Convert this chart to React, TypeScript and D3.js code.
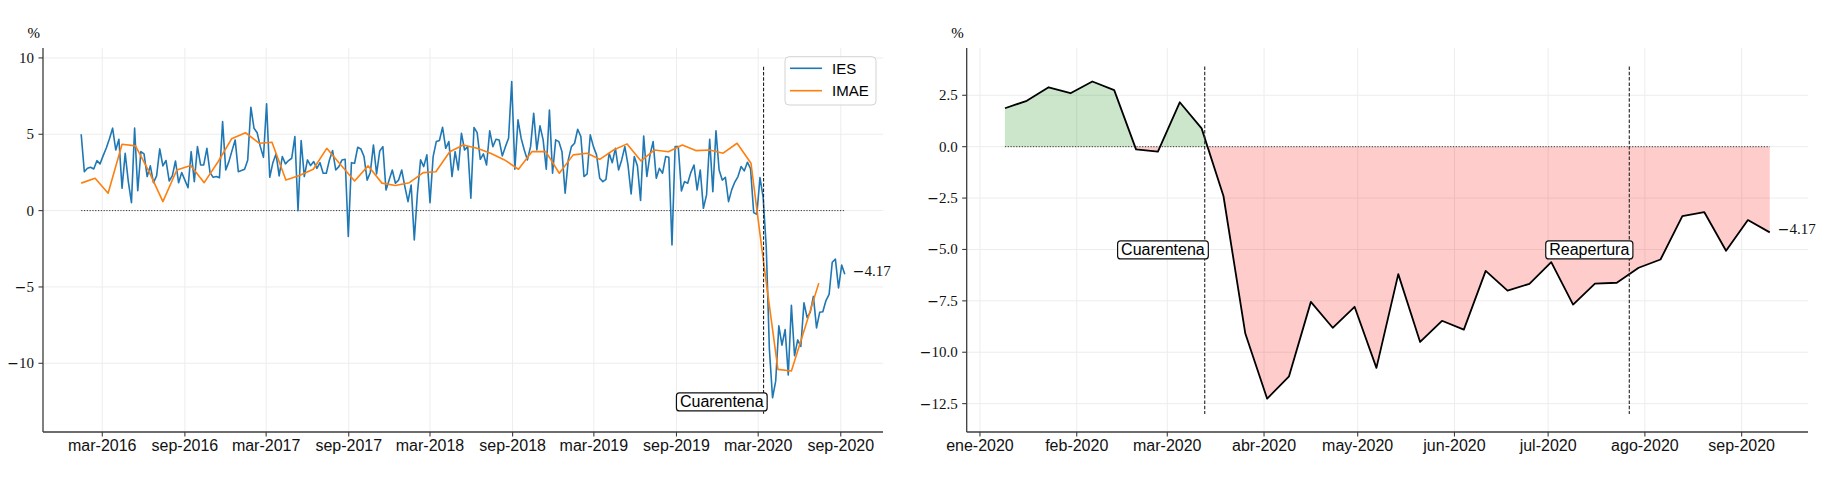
import * as d3 from "d3";
import { useRef, useLayoutEffect, useState } from "react";

// IES: weekly (Thursdays) from 2016-01-14
const iesStart = "2016-01-14";
const iesValues = [
  5.0, 2.55, 2.77, 2.84, 2.73, 3.27, 3.06, 3.6, 4.1, 4.7,
  5.4, 3.97, 4.67, 1.46, 3.75, 1.9, 0.52, 5.4, 1.31, 3.86,
  3.71, 2.23, 2.93, 1.83, 2.27, 4.04, 2.93, 3.28, 1.94, 2.27,
  3.25, 1.83, 2.49, 2.0, 1.5, 3.86, 1.9, 4.19, 2.99, 2.99,
  4.08, 2.49, 2.18, 2.23, 2.16, 5.83, 2.66, 3.21, 3.93, 4.63,
  2.55, 2.62, 2.71, 3.32, 6.77, 5.39, 5.1, 4.19, 3.49, 6.99,
  2.18, 3.14, 3.71, 2.27, 3.54, 3.06, 3.28, 3.43, 4.85, 0.0,
  4.59, 2.23, 3.32, 2.95, 3.21, 2.77, 3.14, 2.45, 2.45, 3.32,
  3.93, 2.66, 2.88, 3.32, 3.36, -1.7, 3.14, 3.1, 4.15, 4.04,
  3.54, 2.0, 2.5, 4.3, 2.4, 3.9, 4.19, 1.35, 2.0, 2.66,
  1.79, 2.0, 2.66, 1.57, 0.59, 1.68, -1.92, 1.14, 3.32, 2.88,
  3.65, 0.52, 3.54, 4.52, 4.59, 5.46, 4.08, 4.52, 2.23, 3.86,
  2.66, 5.07, 3.97, 4.19, 0.81, 5.44, 5.11, 3.36, 3.71, 2.99,
  5.22, 4.19, 4.67, 4.63, 3.58, 4.19, 4.74, 8.45, 2.71, 5.94,
  4.74, 3.97, 3.32, 4.19, 6.38, 3.97, 5.55, 4.63, 2.71, 6.59,
  2.45, 4.63, 4.52, 3.86, 1.14, 3.32, 4.19, 4.41, 5.33, 4.85,
  2.23, 2.4, 4.96, 4.19, 3.65, 2.12, 1.9, 2.05, 3.76, 3.14,
  4.08, 2.66, 3.32, 4.19, 2.99, 1.09, 3.54, 2.93, 0.66, 4.89,
  2.23, 3.65, 4.52, 2.12, 2.77, 2.45, 3.54, 3.49, -2.25, 4.19,
  4.19, 1.29, 1.9, 1.79, 2.49, 2.99, 1.35, 2.66, 0.15, 1.03,
  4.67, 1.24, 5.22, 2.66, 2.0, 2.18, 0.59, 1.36,
  // 2020-01-09 onwards
  1.87, 2.23, 2.89, 2.6, 3.17, 2.75, -0.13, -0.24, 2.16, 0.89,
  -2.4, -9.09, -12.26, -11.17, -7.55, -8.81, -7.79, -10.76, -6.2, -9.5,
  -8.47, -8.9, -6.04, -7.0, -6.67, -5.62, -7.68, -6.66, -6.62, -5.89,
  -5.49, -3.38, -3.18, -5.06, -3.57, -4.17,
];

// IMAE: monthly from 2016-01
const imaeValues = [
  1.8, 2.12, 1.14, 4.35, 4.24, 2.5, 0.59, 2.66, 2.95, 1.83, 3.2, 4.7,
  5.1, 4.41, 4.48, 2.0, 2.3, 2.71, 4.08, 3.0, 1.94, 2.93, 1.8, 1.65,
  1.83, 2.49, 2.55, 3.86, 4.3, 4.08, 3.76, 3.32, 2.71, 3.86, 3.86, 2.45,
  3.65, 3.76, 3.36, 3.97, 4.37, 3.25, 3.97, 3.86, 4.3, 3.93, 3.97, 3.76,
  4.41, 3.1, -3.6, -10.4, -10.5, -7.6, -4.75,
];

const zoomStart = "2020-01-09";
const quarantineDate = "2020-03-13";
const reopeningDate = "2020-07-27";

const leftTickDates = [
  "2016-03-01", "2016-09-01", "2017-03-01", "2017-09-01", "2018-03-01",
  "2018-09-01", "2019-03-01", "2019-09-01", "2020-03-01", "2020-09-01",
];
const leftTickLabels = [
  "mar-2016", "sep-2016", "mar-2017", "sep-2017", "mar-2018",
  "sep-2018", "mar-2019", "sep-2019", "mar-2020", "sep-2020",
];
const leftYTicks = [-10, -5, 0, 5, 10];

const rightTickDates = [
  "2020-01-01", "2020-02-01", "2020-03-01", "2020-04-01", "2020-05-01",
  "2020-06-01", "2020-07-01", "2020-08-01", "2020-09-01",
];
const rightTickLabels = [
  "ene-2020", "feb-2020", "mar-2020", "abr-2020", "may-2020",
  "jun-2020", "jul-2020", "ago-2020", "sep-2020",
];
const rightYTicks = [-12.5, -10, -7.5, -5, -2.5, 0, 2.5];

const parse = (s: string) => {
  const [y, m, d] = s.split("-").map(Number);
  return new Date(y, m - 1, d);
};
const addDays = (d: Date, n: number) => new Date(d.getFullYear(), d.getMonth(), d.getDate() + n);

const iesDates = iesValues.map((_, i) => addDays(parse(iesStart), 7 * i));
const imaeDates = imaeValues.map((_, i) => new Date(2016, i, 14));
const ies = iesValues.map((v, i) => ({ date: iesDates[i], value: v }));
const imae = imaeValues.map((v, i) => ({ date: imaeDates[i], value: v }));
const zoomStartIdx = iesDates.findIndex((d) => +d === +parse(zoomStart));
const zoomed = ies.slice(zoomStartIdx);

const W = 1824;
const H = 480;
const top = 48;
const bottom = 432;
const BLUE = "#1f77b4";
const ORANGE = "#ff7f0e";
const SPINE = "#3c3c3c";
const GRID = "#ededed";
const SANS = "'Liberation Sans', Arial, sans-serif";
const SERIF = "'Liberation Serif', 'DejaVu Serif', serif";

function padded(dates: Date[]): [Date, Date] {
  const t0 = +dates[0];
  const t1 = +dates[dates.length - 1];
  const p = (t1 - t0) * 0.05;
  return [new Date(t0 - p), new Date(t1 + p)];
}

// math-style number: long minus sign like the LaTeX one
function MathNum({ v, digits }: { v: number; digits?: number }) {
  const s = digits === undefined ? Math.abs(v).toString() : Math.abs(v).toFixed(digits);
  return (
    <>
      {v < 0 && (
        <tspan fontFamily="'DejaVu Serif', serif" fontSize={14}>
          {"\u2212"}
        </tspan>
      )}
      {s}
    </>
  );
}

function BoxLabel({ x, y, text }: { x: number; y: number; text: string }) {
  const ref = useRef<SVGTextElement>(null);
  const [bb, setBb] = useState<DOMRect | null>(null);
  useLayoutEffect(() => {
    if (ref.current) setBb(ref.current.getBBox());
  }, [x, y, text]);
  return (
    <g>
      {bb && (
        <rect
          x={bb.x - 3.5}
          y={bb.y}
          width={bb.width + 7}
          height={bb.height + 1}
          rx={3}
          fill="white"
          stroke="#111"
          strokeWidth={1.2}
        />
      )}
      <text
        ref={ref}
        x={x}
        y={y}
        textAnchor="end"
        dominantBaseline="central"
        fontFamily={SANS}
        fontSize={16}
        fill="#000"
      >
        {text}
      </text>
    </g>
  );
}

function Grid({
  x,
  y,
  xTicks,
  yTicks,
}: {
  x: d3.ScaleTime<number, number>;
  y: d3.ScaleLinear<number, number>;
  xTicks: Date[];
  yTicks: number[];
}) {
  const [x0, x1] = x.range();
  return (
    <g>
      {xTicks.map((d, i) => (
        <line key={"gx" + i} x1={x(d)} x2={x(d)} y1={top} y2={bottom} stroke={GRID} strokeWidth={1} />
      ))}
      {yTicks.map((v, i) => (
        <line key={"gy" + i} x1={x0} x2={x1} y1={y(v)} y2={y(v)} stroke={GRID} strokeWidth={1} />
      ))}
      <text x={x0 - 3} y={38} textAnchor="end" fontFamily={SERIF} fontSize={15}>
        %
      </text>
    </g>
  );
}

function Spines({
  x,
  y,
  xTicks,
  xLabels,
  yTicks,
  yDigits,
}: {
  x: d3.ScaleTime<number, number>;
  y: d3.ScaleLinear<number, number>;
  xTicks: Date[];
  xLabels: string[];
  yTicks: number[];
  yDigits?: number;
}) {
  const [x0, x1] = x.range();
  return (
    <g>
      <line x1={x0} x2={x0} y1={top} y2={bottom} stroke={SPINE} strokeWidth={1.3} />
      <line x1={x0} x2={x1} y1={bottom} y2={bottom} stroke={SPINE} strokeWidth={1.3} />
      {xTicks.map((d, i) => (
        <g key={"tx" + i}>
          <line x1={x(d)} x2={x(d)} y1={bottom} y2={bottom + 4.5} stroke={SPINE} strokeWidth={1.1} />
          <text x={x(d)} y={451} textAnchor="middle" fontFamily={SANS} fontSize={16} fill="#111">
            {xLabels[i]}
          </text>
        </g>
      ))}
      {yTicks.map((v, i) => (
        <g key={"ty" + i}>
          <line x1={x0 - 4.5} x2={x0} y1={y(v)} y2={y(v)} stroke={SPINE} strokeWidth={1.1} />
          <text
            x={x0 - 9}
            y={y(v)}
            textAnchor="end"
            dominantBaseline="central"
            fontFamily={SERIF}
            fontSize={15}
            fill="#111"
          >
            <MathNum v={v} digits={yDigits} />
          </text>
        </g>
      ))}
    </g>
  );
}

export default function App() {
  const xTicksL = leftTickDates.map(parse);
  const xTicksR = rightTickDates.map(parse);
  const qDate = parse(quarantineDate);
  const rDate = parse(reopeningDate);

  // left panel
  const xL = d3.scaleTime().domain(padded(iesDates)).range([43, 883]);
  const yL = d3.scaleLinear().domain([-14.5, 10.65]).range([bottom, top]);
  const lineL = d3
    .line<{ date: Date; value: number }>()
    .x((d) => xL(d.date))
    .y((d) => yL(d.value));

  // right panel
  const zDates = zoomed.map((d) => d.date);
  const xR = d3.scaleTime().domain(padded(zDates)).range([966.7, 1808]);
  const yR = d3.scaleLinear().domain([-13.88, 4.8]).range([bottom, top]);
  const lineR = d3
    .line<{ date: Date; value: number }>()
    .x((d) => xR(d.date))
    .y((d) => yR(d.value));
  const areaR = d3
    .area<{ date: Date; value: number }>()
    .x((d) => xR(d.date))
    .y0(yR(0))
    .y1((d) => yR(d.value));

  const lastL = ies[ies.length - 1];
  const lastR = zoomed[zoomed.length - 1];

  return (
    <div style={{ position: "absolute", left: 0, top: 0 }}>
      <svg width={W} height={H} style={{ display: "block", background: "white" }}>
        <defs>
          <clipPath id="posClip">
            <rect x={xR.range()[0]} y={top} width={xR.range()[1] - xR.range()[0]} height={yR(0) - top} />
          </clipPath>
          <clipPath id="negClip">
            <rect x={xR.range()[0]} y={yR(0)} width={xR.range()[1] - xR.range()[0]} height={bottom - yR(0)} />
          </clipPath>
        </defs>

        {/* Left panel */}
        <Grid x={xL} y={yL} xTicks={xTicksL} yTicks={leftYTicks} />
        <line
          x1={xL(iesDates[0])}
          x2={xL(iesDates[iesDates.length - 1])}
          y1={yL(0)}
          y2={yL(0)}
          stroke="#333"
          strokeWidth={1}
          strokeDasharray="1.2,1.6"
        />
        <path d={lineL(ies) || ""} fill="none" stroke={BLUE} strokeWidth={1.6} strokeLinejoin="round" />
        <path d={lineL(imae) || ""} fill="none" stroke={ORANGE} strokeWidth={1.6} strokeLinejoin="round" />
        <line
          x1={xL(qDate)}
          x2={xL(qDate)}
          y1={yL(9.43)}
          y2={yL(-13.3)}
          stroke="#222"
          strokeWidth={1.1}
          strokeDasharray="3.5,1.8"
        />
        <BoxLabel x={xL(qDate)} y={yL(-12.5)} text="Cuarentena" />
        <text x={xL(lastL.date) + 8} y={yL(lastL.value) + 1.5} fontFamily={SERIF} fontSize={15} fill="#111">
          <MathNum v={lastL.value} digits={2} />
        </text>
        {/* legend */}
        <g>
          <rect x={785} y={56.7} width={91} height={48.3} rx={4} fill="white" fillOpacity={0.8} stroke="#d3d3d3" />
          <line x1={790} x2={822} y1={68.3} y2={68.3} stroke={BLUE} strokeWidth={1.6} />
          <text x={832} y={68.3} dominantBaseline="central" fontFamily={SANS} fontSize={15}>
            IES
          </text>
          <line x1={790} x2={822} y1={90.7} y2={90.7} stroke={ORANGE} strokeWidth={1.6} />
          <text x={832} y={90.7} dominantBaseline="central" fontFamily={SANS} fontSize={15}>
            IMAE
          </text>
        </g>
        <Spines x={xL} y={yL} xTicks={xTicksL} xLabels={leftTickLabels} yTicks={leftYTicks} />

        {/* Right panel */}
        <Grid x={xR} y={yR} xTicks={xTicksR} yTicks={rightYTicks} />
        <path d={areaR(zoomed) || ""} fill="rgba(0,128,0,0.2)" stroke="none" clipPath="url(#posClip)" />
        <path d={areaR(zoomed) || ""} fill="rgba(255,0,0,0.2)" stroke="none" clipPath="url(#negClip)" />
        <line
          x1={xR(zDates[0])}
          x2={xR(zDates[zDates.length - 1])}
          y1={yR(0)}
          y2={yR(0)}
          stroke="#333"
          strokeWidth={1}
          strokeDasharray="1.2,1.6"
        />
        <path d={lineR(zoomed) || ""} fill="none" stroke="#000" strokeWidth={1.8} strokeLinejoin="round" />
        {[qDate, rDate].map((d, i) => (
          <line
            key={"vl" + i}
            x1={xR(d)}
            x2={xR(d)}
            y1={yR(3.9)}
            y2={yR(-13.0)}
            stroke="#222"
            strokeWidth={1.1}
            strokeDasharray="3.5,1.8"
          />
        ))}
        <BoxLabel x={xR(qDate)} y={yR(-5)} text="Cuarentena" />
        <BoxLabel x={xR(rDate)} y={yR(-5)} text="Reapertura" />
        <text x={xR(lastR.date) + 8} y={yR(lastR.value) + 1.5} fontFamily={SERIF} fontSize={15} fill="#111">
          <MathNum v={lastR.value} digits={2} />
        </text>
        <Spines x={xR} y={yR} xTicks={xTicksR} xLabels={rightTickLabels} yTicks={rightYTicks} yDigits={1} />
      </svg>
    </div>
  );
}
